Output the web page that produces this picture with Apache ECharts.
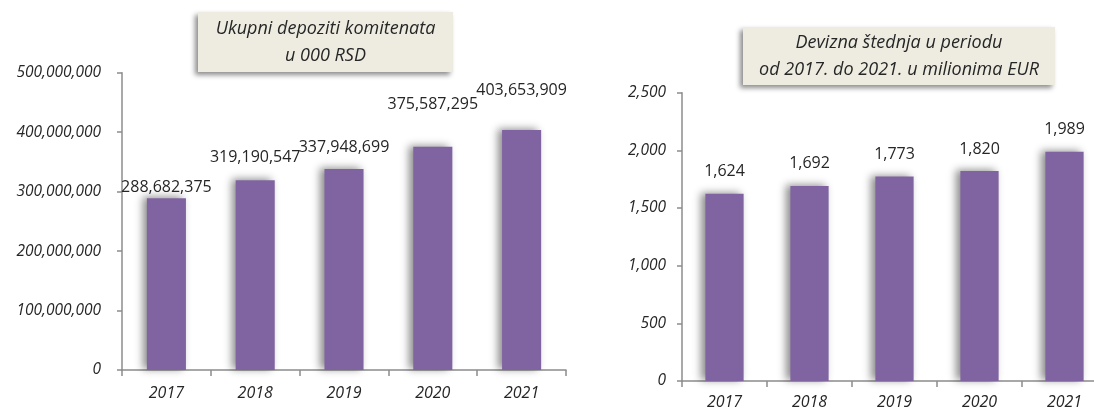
<!DOCTYPE html>
<html>
<head>
<meta charset="utf-8">
<script src="https://cdn.jsdelivr.net/npm/echarts@6/dist/echarts.min.js"></script>
<style>
    html,body{margin:0;padding:0;background:#fff;}
    #container{width:1094px;height:409px;}
</style>
</head>
<body>
<div id="container"></div>
<script>
// godine
var years = ['2017', '2018', '2019', '2020', '2021'];
// Ukupni depoziti komitenata, u 000 RSD
var depoziti = [288682375, 319190547, 337948699, 375587295, 403653909];
// Devizna stednja, u milionima EUR
var stednja = [1624, 1692, 1773, 1820, 1989];
// tick labels
var depTicks = [0, 100000000, 200000000, 300000000, 400000000, 500000000];
var stedTicks = [0, 500, 1000, 1500, 2000, 2500];
// razmak labela iznad stubica (stil)
var depLabelGap = [3, 15, 14, 34, 32];

var purple = '#8064A2';
var axisGray = '#8c8c8c';
var txt = '#262626';

function fmt(v) {
    return String(v).replace(/\B(?=(\d{3})+(?!\d))/g, ',');
}

function titleBox(x, y, w, h, lines) {
    return {
        type: 'group',
        children: [{
            type: 'rect',
            shape: {x: x, y: y, width: w, height: h},
            style: {
                fill: '#EEECE1',
                shadowBlur: 5,
                shadowColor: 'rgba(0,0,0,0.45)',
                shadowOffsetX: -3,
                shadowOffsetY: 3
            }
        }, {
            type: 'text',
            x: x + w / 2,
            y: y + h / 2,
            style: {
                text: lines.join('\n'),
                align: 'center',
                verticalAlign: 'middle',
                fontFamily: 'Open Sans',
                fontStyle: 'italic',
                fontSize: 18,
                lineHeight: 27,
                fill: txt
            }
        }]
    };
}

function yAxisCfg(idx, max, interval, ticks) {
    return {
        type: 'value',
        gridIndex: idx,
        min: 0,
        max: max,
        interval: interval,
        splitLine: {show: false},
        axisLine: {show: true, lineStyle: {color: axisGray, width: 1.5}},
        axisTick: {show: true, length: 5, lineStyle: {color: axisGray, width: 1.5}},
        axisLabel: {
            margin: idx == 0 ? 21 : 16,
            fontFamily: 'Open Sans',
            fontStyle: 'italic',
            fontSize: 15.5,
            color: txt,
            formatter: function (v) {
                return ticks.indexOf(v) >= 0 ? fmt(v) : '';
            }
        }
    };
}

function xAxisCfg(idx, margin) {
    return {
        type: 'category',
        gridIndex: idx,
        data: years,
        boundaryGap: true,
        axisLine: {show: true, lineStyle: {color: axisGray, width: 1.5}},
        axisTick: {show: true, length: 6, alignWithLabel: false, lineStyle: {color: axisGray, width: 1.5}},
        axisLabel: {
            margin: margin,
            fontFamily: 'Open Sans',
            fontStyle: 'italic',
            fontSize: 16,
            color: txt
        }
    };
}

var barStyle = {
    color: purple,
    shadowBlur: 8,
    shadowColor: 'rgba(0,0,0,0.45)',
    shadowOffsetX: -4,
    shadowOffsetY: -1
};

var depData = [];
for (var i = 0; i < depoziti.length; i++) {
    depData.push({
        value: depoziti[i],
        label: {distance: depLabelGap[i]}
    });
}

var myChart = echarts.init(document.getElementById('container'), null, {renderer: 'canvas'});
var option = {
    backgroundColor: '#ffffff',
    animation: false,
    grid: [
        {left: 122, width: 444, top: 72.7, bottom: 39, outerBoundsMode: 'none', containLabel: false},
        {left: 682, width: 425, top: 92.7, bottom: 28, outerBoundsMode: 'none', containLabel: false}
    ],
    xAxis: [xAxisCfg(0, 15), xAxisCfg(1, 13)],
    yAxis: [
        yAxisCfg(0, 500000000, 100000000, depTicks),
        yAxisCfg(1, 2500, 500, stedTicks)
    ],
    series: [{
        type: 'bar',
        xAxisIndex: 0,
        yAxisIndex: 0,
        barWidth: '44%',
        data: depData,
        itemStyle: barStyle,
        label: {
            show: true,
            position: 'top',
            fontFamily: 'Open Sans',
            fontSize: 16,
            color: txt,
            formatter: function (p) { return fmt(p.value); }
        }
    }, {
        type: 'bar',
        xAxisIndex: 1,
        yAxisIndex: 1,
        barWidth: '45%',
        data: stednja,
        itemStyle: barStyle,
        label: {
            show: true,
            position: 'top',
            distance: 14,
            fontFamily: 'Open Sans',
            fontSize: 16,
            color: txt,
            formatter: function (p) { return fmt(p.value); }
        }
    }],
    graphic: [
        titleBox(198, 12, 255, 60, ['Ukupni depoziti komitenata', 'u 000 RSD']),
        titleBox(743, 27, 312, 58, ['Devizna štednja u periodu', 'od 2017. do 2021. u milionima EUR'])
    ]
};
myChart.setOption(option, true);
</script>
</body>
</html>
